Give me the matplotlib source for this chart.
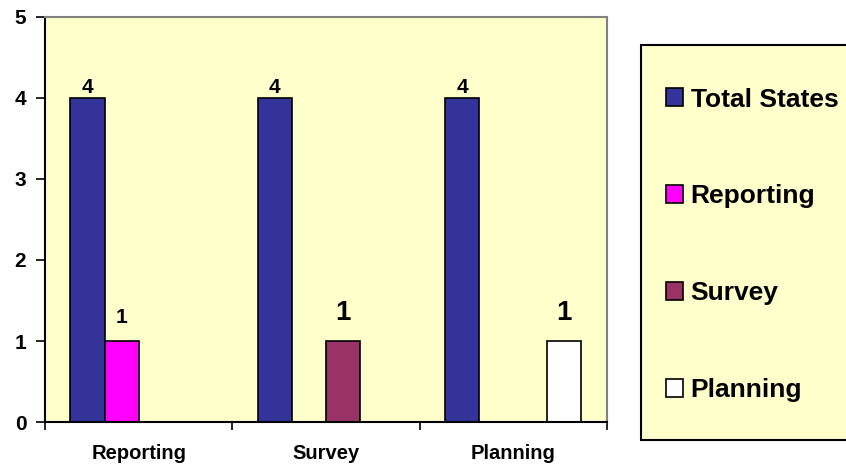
import numpy as np
import matplotlib
matplotlib.use("Agg")
import matplotlib.pyplot as plt
from matplotlib.patches import Rectangle

plt.rcParams['font.family'] = ['Liberation Sans', 'DejaVu Sans']
plt.rcParams['font.weight'] = 'bold'

# 数据
categories = ["Reporting", "Survey", "Planning"]
series_names = ["Total States", "Reporting", "Survey", "Planning"]
total_states = [4, 4, 4]
reporting = [1, np.nan, np.nan]
survey = [np.nan, 1, np.nan]
planning = [np.nan, np.nan, 1]
series_colors = ["#333399", "#FF00FF", "#993366", "#FFFFFF"]
label_sizes = [15, 15, 20, 20]
label_pads = [1, 10, 11, 11]

fig = plt.figure(figsize=(8.46, 4.71), dpi=100)
ax = fig.add_axes([0.0532, 0.104, 0.664, 0.860])
ax.set_facecolor("#FFFFCC")

x = np.arange(len(categories))
w = 0.182
all_series = [total_states, reporting, survey, planning]
for i, vals in enumerate(all_series):
    bars = ax.bar(x + (i - 1.5) * w, vals, w, color=series_colors[i],
                  edgecolor="black", linewidth=1.2, label=series_names[i])
    labels = ["" if np.isnan(v) else f"{int(v)}" for v in vals]
    ax.bar_label(bars, labels=labels, padding=label_pads[i],
                 fontsize=label_sizes[i], fontweight="bold")

ax.set_xlim(-0.5, 2.5)
ax.set_ylim(0, 5)
ax.set_yticks(range(6))
ax.tick_params(axis="y", labelsize=15, length=6.5, width=1.2, pad=7, direction="out")

# 分组边界刻度 + 中心标签
ax.set_xticks([-0.5, 0.5, 1.5, 2.5])
ax.set_xticklabels([])
ax.tick_params(axis="x", which="major", length=6, width=1.2, direction="out")
ax.set_xticks(x, minor=True)
ax.set_xticklabels(categories, minor=True, fontsize=14.5, fontweight="bold")
ax.tick_params(axis="x", which="minor", length=0, pad=16)

for s in ["top", "right"]:
    ax.spines[s].set_color("#808080")
    ax.spines[s].set_linewidth(1.5)
for s in ["left", "bottom"]:
    ax.spines[s].set_color("black")
    ax.spines[s].set_linewidth(1.5)

# 图例框
fig.patches.append(Rectangle((641 / 846, 1 - 440 / 471), 0.3, 395 / 471,
                             transform=fig.transFigure, facecolor="#FFFFCC",
                             edgecolor="black", linewidth=1.5, zorder=0))
handles, lbls = ax.get_legend_handles_labels()
fig.legend(handles, lbls, loc="upper left", bbox_to_anchor=(655 / 846, 1 - 77 / 471),
           frameon=False, prop={"size": 19, "weight": "bold"},
           handlelength=0.65, handleheight=0.65, handletextpad=0.3,
           labelspacing=2.76, borderaxespad=0)

fig.savefig("out.png", dpi=100)
